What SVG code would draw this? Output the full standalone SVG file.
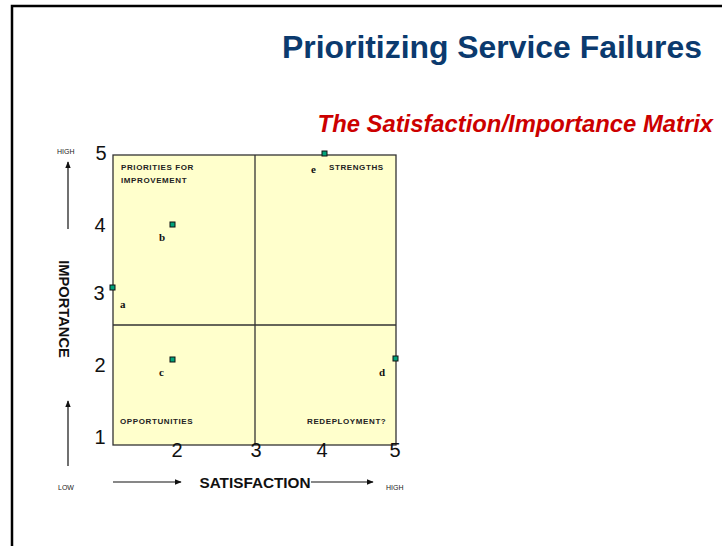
<svg xmlns="http://www.w3.org/2000/svg" width="722" height="546" viewBox="0 0 722 546">
<style>
.num{font-family:"Liberation Sans",Arial,sans-serif;font-size:20px;fill:#111}
.q{font-family:"Liberation Sans",Arial,sans-serif;font-size:8px;font-weight:bold;letter-spacing:0.6px;fill:#222}
.pl{font-family:"Liberation Serif","Times New Roman",serif;font-size:11px;font-weight:bold;fill:#111}
.sm{font-family:"Liberation Sans",Arial,sans-serif;font-size:7px;fill:#222}
.pt{fill:#00a37a;stroke:#111;stroke-width:1}
.ax{stroke:#111;stroke-width:1.2;fill:none}
.grid{stroke:#333;stroke-width:1.3;fill:none}
.box{stroke:#333;stroke-width:1.3;fill:#ffffcc}
</style>
<defs>
<marker id="ah" viewBox="0 0 10 10" refX="9" refY="5" markerWidth="7" markerHeight="7" markerUnits="userSpaceOnUse" orient="auto">
<path d="M0,1 L10,5 L0,9 z" fill="#111"/>
</marker>
</defs>
<rect width="722" height="546" fill="#fff"/>
<path d="M12,546 V6 H722" stroke="#000" stroke-width="2.5" fill="none"/>
<text x="702" y="58" text-anchor="end" font-family="Liberation Sans,Arial,sans-serif" font-size="31.9" font-weight="bold" fill="#0b3a6e">Prioritizing Service Failures</text>
<text x="713" y="132" text-anchor="end" font-family="Liberation Sans,Arial,sans-serif" font-size="23.8" font-weight="bold" font-style="italic" fill="#cc0000">The Satisfaction/Importance Matrix</text>
<g id="matrix">
<rect x="113" y="155" width="283" height="290" class="box"/>
<line x1="255" y1="155" x2="255" y2="445" class="grid"/>
<line x1="113" y1="325" x2="396" y2="325" class="grid"/>
<text x="121" y="170" class="q">PRIORITIES FOR</text>
<text x="121" y="183" class="q">IMPROVEMENT</text>
<text x="329" y="170" class="q">STRENGTHS</text>
<text x="120" y="424" class="q">OPPORTUNITIES</text>
<text x="307" y="424" class="q">REDEPLOYMENT?</text>
</g>
<g id="yaxis">
<text x="101" y="160" text-anchor="middle" class="num">5</text>
<text x="100" y="232" text-anchor="middle" class="num">4</text>
<text x="99" y="300" text-anchor="middle" class="num">3</text>
<text x="100" y="372" text-anchor="middle" class="num">2</text>
<text x="100" y="444" text-anchor="middle" class="num">1</text>
</g>
<g id="xaxis">
<text x="177" y="457" text-anchor="middle" class="num">2</text>
<text x="256" y="457" text-anchor="middle" class="num">3</text>
<text x="322" y="457" text-anchor="middle" class="num">4</text>
<text x="395" y="457" text-anchor="middle" class="num">5</text>
</g>
<g id="point-a"><rect x="110" y="285" width="5" height="5" class="pt"/><text x="120" y="308" class="pl">a</text></g>
<g id="point-b"><rect x="170" y="222" width="5" height="5" class="pt"/><text x="159" y="241" class="pl">b</text></g>
<g id="point-c"><rect x="170" y="357" width="5" height="5" class="pt"/><text x="159" y="376" class="pl">c</text></g>
<g id="point-d"><rect x="393" y="356" width="5" height="5" class="pt"/><text x="379" y="376" class="pl">d</text></g>
<g id="point-e"><rect x="322" y="151" width="5" height="5" class="pt"/><text x="311" y="173" class="pl">e</text></g>
<g id="connectors">
<line x1="68" y1="229" x2="68" y2="162" class="ax" marker-end="url(#ah)"/>
<line x1="68" y1="466" x2="68" y2="401" class="ax" marker-end="url(#ah)"/>
<line x1="113" y1="482" x2="181" y2="482" class="ax" marker-end="url(#ah)"/>
<line x1="311" y1="482" x2="373" y2="482" class="ax" marker-end="url(#ah)"/>
</g>
<text x="57" y="154" class="sm">HIGH</text>
<text x="58" y="490" class="sm">LOW</text>
<text x="386" y="490" class="sm">HIGH</text>
<text x="255" y="488" text-anchor="middle" font-family="Liberation Sans,Arial,sans-serif" font-size="15.3" font-weight="bold" fill="#111">SATISFACTION</text>
<text transform="translate(59,309) rotate(90)" text-anchor="middle" font-family="Liberation Sans,Arial,sans-serif" font-size="14.7" font-weight="bold" fill="#111">IMPORTANCE</text>
</svg>
